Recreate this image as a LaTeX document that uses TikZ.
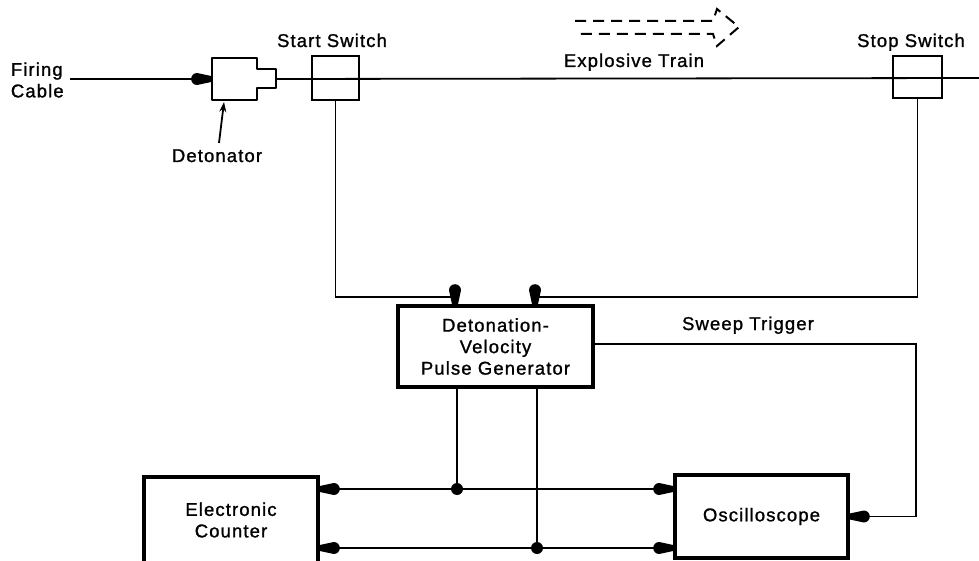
\documentclass[tikz,border=0pt]{standalone}
\usepackage{fontspec}
\setmainfont{Liberation Sans}[LetterSpace=6,FakeBold=1.2]
\usetikzlibrary{arrows.meta}
\pgfdeclarearrow{
  name = Tear,
  setup code = {
    \pgfarrowssettipend{0pt}
    \pgfarrowssetbackend{-20pt}
    \pgfarrowssetlineend{-13pt}
  },
  drawing code = {
    \pgfpathmoveto{\pgfqpoint{0pt}{3pt}}
    \pgfpathlineto{\pgfqpoint{-14pt}{6pt}}
    \pgfpatharc{90}{270}{6pt}
    \pgfpathlineto{\pgfqpoint{0pt}{-3pt}}
    \pgfpathclose
    \pgfusepathqfill
  }
}
\begin{document}
\begin{tikzpicture}[x=1pt,y=-1pt,line width=1.8pt,
  tear/.style={-Tear},
  lbl/.style={font=\fontsize{18.5}{21.5}\selectfont,inner sep=0pt},
  blk/.style={draw,line width=3.6pt,lbl,align=center},
  swbox/.style={draw,line width=2.8pt,inner sep=0pt},
  dot/.style={circle,fill,inner sep=0pt,minimum size=12pt}]
\useasboundingbox (0,0) rectangle (979,561);
\clip (0,0) rectangle (979,561);

% labels
\node[lbl,align=left,anchor=west] (fc) at (10,80) {Firing\\Cable};
\node[lbl,anchor=base] (dl) at (217,162) {Detonator};
\node[lbl,anchor=base] (ssl) at (332,47) {Start Switch};
\node[lbl,anchor=base] (spl) at (911,47) {Stop Switch};
\node[lbl,anchor=base] (etl) at (634,67) {Explosive Train};
\node[lbl,anchor=base] (stl) at (748,330) {Sweep Trigger};

% detonator
\node[inner sep=0pt,minimum width=64pt,minimum height=42pt] (det) at (244,79) {};
\draw[line width=2.8pt,line join=round]
  (212,58) -- (257,58) -- (257,69) -- (276,69) -- (276,88) -- (257,88) -- (257,100) -- (212,100) -- cycle;
\coordinate (fcend) at (70,79);
\draw[tear] (fcend) -- (det.west);
\draw[-{Stealth[length=10pt,width=7pt]}] (219,143) -- (224,102);

% switches
\node[swbox,minimum width=47pt,minimum height=44pt] (ss) at (335.5,78) {};
\node[swbox,minimum width=49pt,minimum height=42pt] (sp) at (917.5,77) {};
\coordinate (rend) at (979,78);
\draw (det.east) -- (rend);

% explosive train arrow
\draw[line width=2pt,dash pattern=on 11pt off 7pt]
  (575,21) -- (713,21) -- (717,9) -- (739,27) -- (717,46) -- (713,34) -- (575,34);

% blocks
\node[blk,minimum width=195pt,minimum height=81pt] (pg) at (495.5,346.5)
  {Detonation-\\Velocity\\Pulse Generator};
\node[blk,minimum width=174pt,minimum height=86pt] (ec) at (231,520)
  {Electronic\\Counter};
\node[blk,minimum width=173pt,minimum height=83pt] (osc) at (761.5,516.5)
  {Oscilloscope};

% switch connections
\coordinate (c2) at (455,297);
\coordinate (c3) at (535,297);
\draw[tear] (ss.south) |- (c2) -- (c2 |- pg.north);
\draw[tear] (sp.south) |- (c3) -- (c3 |- pg.north);

% sweep trigger
\coordinate (c4) at (916,344);
\draw[tear] (pg.east |- c4) -- (c4) |- (osc.east);

% outputs
\node[dot] (j1) at (457,489) {};
\node[dot] (j2) at (537,548) {};
\draw (pg.south -| j1) -- (j1.center);
\draw (pg.south -| j2) -- (j2.center);
\draw[tear] (j1.center) -- (j1 -| ec.east);
\draw[tear] (j1.center) -- (j1 -| osc.west);
\draw[tear] (j2.center) -- (j2 -| ec.east);
\draw[tear] (j2.center) -- (j2 -| osc.west);
\end{tikzpicture}
\end{document}
